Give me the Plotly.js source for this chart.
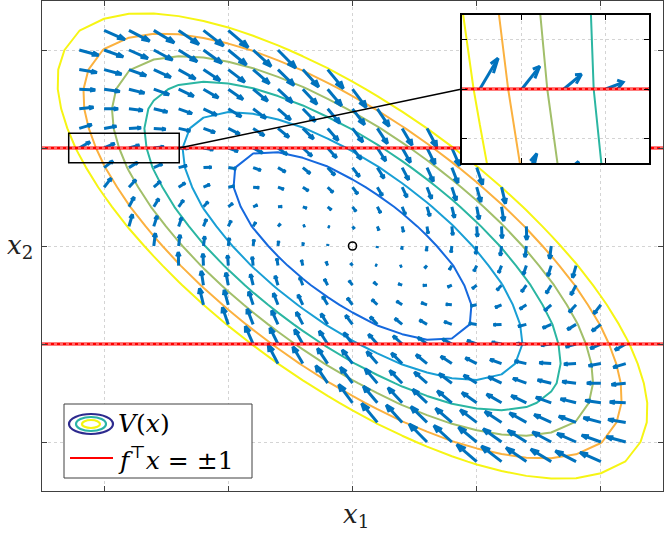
<!DOCTYPE html>
<html>
<head>
<meta charset="utf-8">
<script src="https://cdn.plot.ly/plotly-3.0.1.min.js"></script>
<style>
  html, body { margin: 0; padding: 0; background: #fff; }
  #plot { width: 664px; height: 533px; }
</style>
</head>
<body>
<div id="plot"></div>
<script>
// grid of the quiver / contour (0.2 spacing)
var gridX = [-2.4, -2.2, -2.0, -1.8, -1.6, -1.4, -1.2, -1.0, -0.8, -0.6, -0.4, -0.2, 0,
             0.2, 0.4, 0.6, 0.8, 1.0, 1.2, 1.4, 1.6, 1.8, 2.0, 2.2, 2.4];
var gridY = gridX.slice();

// V(x) = x' P x, estimated from the ellipses
var P = [[1, 0.708], [0.708, 1]];
var levels = [0.47, 0.94, 1.41, 1.88, 2.35, 2.82];

// linear field dx = A x (already in drawn length)
var A = [[-0.008, 0.069], [-0.081, -0.116]];

// f' x = +-1 lines and the equilibrium
var bounds = [1, -1];
var eqX = [0], eqY = [0];

// zoom window shown in the inset
var zoomX = [-2.285, -1.395];
var zoomY = [0.85, 1.15];

var mainTicks = [-2, -1, 0, 1, 2];
var insetTicksX = [-2.0, -1.6];
var insetTicksY = [0.9, 1.0, 1.1];

var levelColors = ['#1669de', '#199fd5', '#2bb6a2', '#a2bf6a', '#fbb13f', '#f6f514'];

function V(x, y) {
  return P[0][0] * x * x + 2 * P[0][1] * x * y + P[1][1] * y * y;
}

// contour grid
var z = gridY.map(function (y) {
  return gridX.map(function (x) { return V(x, y); });
});

// quiver, matlab style heads
var qx = [], qy = [];
var alpha = 0.33, beta = 0.33;
gridY.forEach(function (y) {
  gridX.forEach(function (x) {
    if (V(x, y) >= levels[levels.length - 1]) return;
    var u = A[0][0] * x + A[0][1] * y;
    var v = A[1][0] * x + A[1][1] * y;
    var tx = x + u, ty = y + v;
    qx.push(x, tx, null,
      tx - alpha * (u + beta * v), tx, tx - alpha * (u - beta * v), null);
    qy.push(y, ty, null,
      ty - alpha * (v - beta * u), ty, ty - alpha * (v + beta * u), null);
  });
});

// one contour trace per level so each keeps its own colour
function contourTraces(xa, ya) {
  return levels.map(function (lv, i) {
    var c = levelColors[i];
    return {
      type: 'contour', x: gridX, y: gridY, z: z,
      xaxis: xa, yaxis: ya,
      autocontour: false,
      contours: { start: lv, end: lv, size: 1, coloring: 'lines' },
      colorscale: [[0, c], [1, c]], showscale: false,
      line: { width: 2, smoothing: 0 },
      hoverinfo: 'skip'
    };
  });
}

function quiverTrace(xa, ya) {
  return {
    type: 'scatter', mode: 'lines', x: qx, y: qy,
    xaxis: xa, yaxis: ya,
    line: { color: '#0072BD', width: 3 },
    hoverinfo: 'skip'
  };
}

function boundTraces(xa, ya, xr) {
  var out = [];
  bounds.forEach(function (b) {
    out.push({ type: 'scatter', mode: 'lines', x: xr, y: [b, b], xaxis: xa, yaxis: ya,
      line: { color: '#ff0000', width: 3 }, hoverinfo: 'skip' });
    out.push({ type: 'scatter', mode: 'lines', x: xr, y: [b, b], xaxis: xa, yaxis: ya,
      line: { color: '#ffffff', width: 1, dash: 'dot' }, opacity: 0.8, hoverinfo: 'skip' });
  });
  return out;
}

var traces = contourTraces('x', 'y')
  .concat([quiverTrace('x', 'y')])
  .concat(boundTraces('x', 'y', [-2.5, 2.5]))
  .concat([{ type: 'scatter', mode: 'markers', x: eqX, y: eqY,
    marker: { symbol: 'circle-open', size: 8, color: '#000', line: { width: 1.6, color: '#000' } },
    hoverinfo: 'skip' }])
  .concat(contourTraces('x2', 'y2'))
  .concat([quiverTrace('x2', 'y2')])
  .concat(boundTraces('x2', 'y2', zoomX));

var mainDomX = [42 / 664, 663 / 664], mainDomY = [42 / 533, 532 / 533];
var insDomX = [462 / 664, 649 / 664], insDomY = [370 / 533, 518 / 533];

function axisBase(extra) {
  var a = {
    showline: true, mirror: 'ticks', ticks: 'inside', ticklen: 5,
    showticklabels: false, zeroline: false,
    showgrid: true, gridcolor: '#d4d4d4', griddash: 'dot', gridwidth: 1
  };
  for (var k in extra) a[k] = extra[k];
  return a;
}

// connector from zoom box to inset, in paper coords
function px(xv) { return mainDomX[0] + (xv + 2.5) / 5 * (mainDomX[1] - mainDomX[0]); }
function py(yv) { return mainDomY[0] + (yv + 2.5) / 5 * (mainDomY[1] - mainDomY[0]); }

var serif = 'DejaVu Serif';

var layout = {
  width: 664, height: 533,
  margin: { l: 0, r: 0, t: 0, b: 0 },
  paper_bgcolor: '#fff', plot_bgcolor: '#fff',
  showlegend: false,
  xaxis: axisBase({ domain: mainDomX, range: [-2.5, 2.5], tickvals: mainTicks,
    linecolor: '#404040', tickcolor: '#404040', linewidth: 1, anchor: 'y' }),
  yaxis: axisBase({ domain: mainDomY, range: [-2.5, 2.5], tickvals: mainTicks,
    linecolor: '#404040', tickcolor: '#404040', linewidth: 1, anchor: 'x' }),
  xaxis2: axisBase({ domain: insDomX, range: zoomX, tickvals: insetTicksX,
    linecolor: '#000', tickcolor: '#000', linewidth: 2, anchor: 'y2' }),
  yaxis2: axisBase({ domain: insDomY, range: zoomY, tickvals: insetTicksY,
    linecolor: '#000', tickcolor: '#000', linewidth: 2, anchor: 'x2' }),
  shapes: [
    { type: 'rect', xref: 'x', yref: 'y', x0: zoomX[0], x1: zoomX[1], y0: zoomY[0], y1: zoomY[1],
      line: { color: '#000', width: 1.5 } },
    { type: 'line', xref: 'paper', yref: 'paper',
      x0: px(zoomX[1]), y0: py((zoomY[0] + zoomY[1]) / 2),
      x1: insDomX[0], y1: (insDomY[0] + insDomY[1]) / 2,
      line: { color: '#000', width: 1.5 } },
    // legend box
    { type: 'rect', xref: 'paper', yref: 'paper', x0: 64 / 664, x1: 252 / 664, y0: 55 / 533, y1: 129 / 533,
      fillcolor: '#fff', line: { color: '#404040', width: 1 } },
    { type: 'circle', xref: 'paper', yref: 'paper', x0: 69 / 664, x1: 113 / 664, y0: 99 / 533, y1: 119 / 533,
      line: { color: '#2d2a8e', width: 2.2 } },
    { type: 'circle', xref: 'paper', yref: 'paper', x0: 76 / 664, x1: 106 / 664, y0: 102 / 533, y1: 116 / 533,
      line: { color: '#2bb3a6', width: 2.2 } },
    { type: 'circle', xref: 'paper', yref: 'paper', x0: 82 / 664, x1: 100 / 664, y0: 105 / 533, y1: 113 / 533,
      line: { color: '#f5f50f', width: 2.2 } },
    { type: 'line', xref: 'paper', yref: 'paper', x0: 70 / 664, x1: 113 / 664, y0: 75 / 533, y1: 75 / 533,
      line: { color: '#ff0000', width: 2 } }
  ],
  annotations: [
    { xref: 'paper', yref: 'paper', x: 116 / 664, y: 110 / 533, xanchor: 'left', yanchor: 'middle',
      text: '<i>V</i>(<i>x</i>)', showarrow: false, font: { family: serif, size: 25, color: '#000' } },
    { xref: 'paper', yref: 'paper', x: 116 / 664, y: 75 / 533, xanchor: 'left', yanchor: 'middle',
      text: '<i>f</i><sup>⊤</sup><i>x</i> = ±1', showarrow: false, font: { family: serif, size: 25, color: '#000' } },
    { xref: 'paper', yref: 'paper', x: 356 / 664, y: 18 / 533, xanchor: 'center', yanchor: 'middle',
      text: '<i>x</i><sub>1</sub>', showarrow: false, font: { family: serif, size: 26, color: '#222' } },
    { xref: 'paper', yref: 'paper', x: 20 / 664, y: 286 / 533, xanchor: 'center', yanchor: 'middle',
      text: '<i>x</i><sub>2</sub>', showarrow: false, font: { family: serif, size: 26, color: '#222' } }
  ]
};

Plotly.newPlot('plot', traces, layout, { staticPlot: true, displayModeBar: false });
</script>
</body>
</html>
